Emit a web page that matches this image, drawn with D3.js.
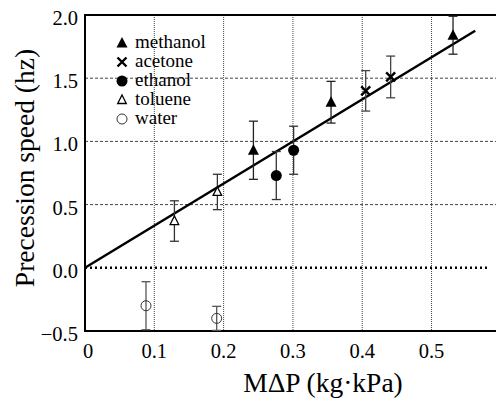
<!DOCTYPE html>
<html>
<head>
<meta charset="utf-8">
<script src="https://cdn.jsdelivr.net/npm/d3@7"></script>
<style>
  body { margin: 0; background: #fff; }
</style>
</head>
<body>
<script>
// data
var series = ["methanol", "acetone", "ethanol", "toluene", "water"];
var methanolX = [0.243, 0.355, 0.531];
var methanolY = [0.93, 1.31, 1.84];
var methanolErr = [0.23, 0.165, 0.15];
var acetoneX = [0.405, 0.441];
var acetoneY = [1.40, 1.51];
var acetoneErr = [0.16, 0.165];
var ethanolX = [0.276, 0.301];
var ethanolY = [0.73, 0.93];
var ethanolErr = [0.19, 0.19];
var tolueneX = [0.129, 0.191];
var tolueneY = [0.37, 0.60];
var tolueneErr = [0.16, 0.14];
var waterX = [0.088, 0.19];
var waterY = [-0.30, -0.40];
var waterErr = [0.19, 0.095];
var fitX = [0, 0.563];
var fitY = [0, 1.875];
var xTicks = [0, 0.1, 0.2, 0.3, 0.4, 0.5];
var yTicks = [-0.5, 0.0, 0.5, 1.0, 1.5, 2.0];

var width = 496, height = 400;
var margin = {top: 15, right: 0, bottom: 69, left: 85};

var svg = d3.select("body").append("svg")
    .attr("width", width)
    .attr("height", height)
    .attr("font-family", "Liberation Serif");

var x = d3.scaleLinear().domain([0, 0.593]).range([margin.left, width - margin.right]);
var y = d3.scaleLinear().domain([-0.5, 2.0]).range([height - margin.bottom, margin.top]);

//grid
svg.selectAll(".vgrid")
    .data(xTicks.filter(function(d) { return d > 0; }))
    .enter().append("line")
    .attr("x1", function(d) { return x(d); })
    .attr("x2", function(d) { return x(d); })
    .attr("y1", y(2.0))
    .attr("y2", y(-0.5))
    .attr("stroke", "#444")
    .attr("stroke-width", 1)
    .attr("stroke-dasharray", "1,1");

svg.selectAll(".hgrid")
    .data([0.5, 1.0, 1.5])
    .enter().append("line")
    .attr("x1", x(0))
    .attr("x2", width)
    .attr("y1", function(d) { return y(d); })
    .attr("y2", function(d) { return y(d); })
    .attr("stroke", "#444")
    .attr("stroke-width", 1)
    .attr("stroke-dasharray", "3,2");

// zero line
svg.append("line")
    .attr("x1", x(0))
    .attr("x2", 488)
    .attr("y1", y(0))
    .attr("y2", y(0))
    .attr("stroke", "#000")
    .attr("stroke-width", 2.5)
    .attr("stroke-dasharray", "2,3");

// frame
svg.append("line")
    .attr("x1", x(0)).attr("x2", width)
    .attr("y1", y(2.0)).attr("y2", y(2.0))
    .attr("stroke", "#000").attr("stroke-width", 2);
svg.append("line")
    .attr("x1", x(0)).attr("x2", width)
    .attr("y1", y(-0.5)).attr("y2", y(-0.5))
    .attr("stroke", "#000").attr("stroke-width", 2);
svg.append("line")
    .attr("x1", x(0)).attr("x2", x(0))
    .attr("y1", y(2.0) - 1).attr("y2", y(-0.5) + 1)
    .attr("stroke", "#000").attr("stroke-width", 2);

// tick labels
svg.selectAll(".ylab")
    .data(yTicks)
    .enter().append("text")
    .attr("x", x(0) - 7)
    .attr("y", function(d) { return y(d) + 10; })
    .attr("text-anchor", "end")
    .attr("font-size", 20.5)
    .text(function(d) { return d3.format(".1f")(d); });

svg.selectAll(".xlab")
    .data(xTicks)
    .enter().append("text")
    .attr("x", function(d) { return x(d) + (d == 0 ? 3 : 0); })
    .attr("y", y(-0.5) + 27)
    .attr("text-anchor", "middle")
    .attr("font-size", 20.5)
    .text(function(d) { return d == 0 ? "0" : d3.format(".1f")(d); });

// axis titles
svg.append("text")
    .attr("x", 323)
    .attr("y", 392)
    .attr("text-anchor", "middle")
    .attr("font-size", 27.5)
    .text("M\u0394P (kg\u00b7kPa)");

svg.append("text")
    .attr("transform", "translate(34," + 168 + ") rotate(-90)")
    .attr("text-anchor", "middle")
    .attr("font-size", 27.5)
    .text("Precession speed (hz)");

// fit line
var line = d3.line()
    .x(function(d) { return x(d[0]); })
    .y(function(d) { return y(d[1]); });
svg.append("path")
    .datum(d3.zip(fitX, fitY))
    .attr("d", line)
    .attr("fill", "none")
    .attr("stroke", "#000")
    .attr("stroke-width", 2.5);

// error bars
function errbars(xs, ys, es, col) {
    var pts = d3.zip(xs, ys, es);
    var g = svg.append("g").attr("stroke", col).attr("stroke-width", 1.3);
    pts.forEach(function(p) {
        var cx = x(p[0]);
        g.append("line").attr("x1", cx).attr("x2", cx)
            .attr("y1", y(p[1] + p[2])).attr("y2", y(p[1] - p[2]));
        g.append("line").attr("x1", cx - 4.5).attr("x2", cx + 4.5)
            .attr("y1", y(p[1] + p[2])).attr("y2", y(p[1] + p[2]));
        g.append("line").attr("x1", cx - 4.5).attr("x2", cx + 4.5)
            .attr("y1", y(p[1] - p[2])).attr("y2", y(p[1] - p[2]));
    });
}
errbars(methanolX, methanolY, methanolErr, "#222");
errbars(acetoneX, acetoneY, acetoneErr, "#444");
errbars(ethanolX, ethanolY, ethanolErr, "#333");
errbars(tolueneX, tolueneY, tolueneErr, "#333");
errbars(waterX, waterY, waterErr, "#555");

// marker shapes
function marker(g, kind, cx, cy) {
    if (kind == "methanol") {
        g.append("path").attr("transform", "translate(" + cx + "," + cy + ")")
            .attr("d", "M0,-6L5.5,4.5L-5.5,4.5Z").attr("fill", "#000");
    } else if (kind == "acetone") {
        g.append("path").attr("transform", "translate(" + cx + "," + cy + ")")
            .attr("d", "M-4.5,-4.5L4.5,4.5M-4.5,4.5L4.5,-4.5")
            .attr("stroke", "#000").attr("stroke-width", 2.4).attr("fill", "none");
    } else if (kind == "ethanol") {
        g.append("circle").attr("cx", cx).attr("cy", cy).attr("r", 5.5).attr("fill", "#000");
    } else if (kind == "toluene") {
        g.append("path").attr("transform", "translate(" + cx + "," + cy + ")")
            .attr("d", "M0,-5L4.3,3.5L-4.3,3.5Z")
            .attr("fill", "#fff").attr("stroke", "#000").attr("stroke-width", 1.3);
    } else {
        g.append("circle").attr("cx", cx).attr("cy", cy).attr("r", 5)
            .attr("fill", "none").attr("stroke", "#333").attr("stroke-width", 1);
    }
}

var allX = {methanol: methanolX, acetone: acetoneX, ethanol: ethanolX, toluene: tolueneX, water: waterX};
var allY = {methanol: methanolY, acetone: acetoneY, ethanol: ethanolY, toluene: tolueneY, water: waterY};
var pg = svg.append("g");
series.forEach(function(s) {
    d3.zip(allX[s], allY[s]).forEach(function(p) {
        marker(pg, s, x(p[0]), y(p[1]));
    });
});

// legend
var lg = svg.append("g");
series.forEach(function(s, i) {
    var ly = 43 + i * 19;
    marker(lg, s, 122, ly);
    lg.append("text")
        .attr("x", 135)
        .attr("y", ly + 5)
        .attr("font-size", 19)
        .text(s);
});
</script>
</body>
</html>
